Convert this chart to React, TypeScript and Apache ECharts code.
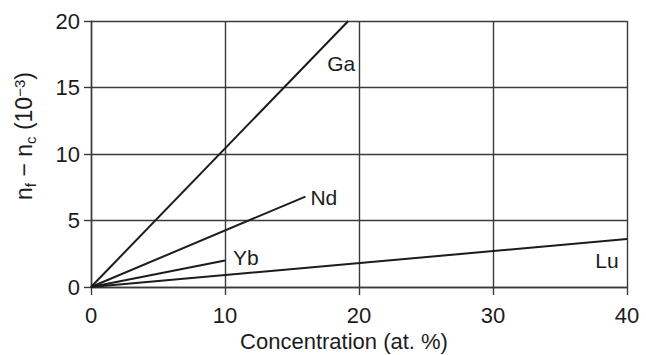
import React, { useEffect, useRef } from "react";
import * as echarts from "echarts";

// Refractive-index change vs. dopant concentration, one straight line per dopant
const gaLine: [number, number][] = [[0, 0], [19.2, 20]];
const ndLine: [number, number][] = [[0, 0], [16, 6.8]];
const ybLine: [number, number][] = [[0, 0], [10, 2]];
const luLine: [number, number][] = [[0, 0], [40, 3.6]];

const xTicks = [0, 10, 20, 30, 40];
const yTicks = [0, 5, 10, 15, 20];

const FONT = "'Liberation Sans', Arial, Helvetica, sans-serif";
const INK = "#1c1c1c";
const GRID = "#3a3a3a";

type LabelSpec = { name: string; position: string; offset: [number, number]; distance?: number };

function lineSeries(data: [number, number][], lab: LabelSpec) {
  const last = data[data.length - 1];
  return {
    type: "line",
    name: lab.name,
    symbol: "circle",
    symbolSize: 2,
    showSymbol: true,
    itemStyle: { color: "rgba(0,0,0,0)" },
    lineStyle: { color: INK, width: 2 },
    emphasis: { disabled: true },
    data: [
      ...data.slice(0, -1).map((p) => ({ value: p })),
      {
        value: last,
        label: {
          show: true,
          formatter: lab.name,
          position: lab.position,
          distance: lab.distance ?? 5,
          offset: lab.offset,
          color: INK,
          fontFamily: FONT,
          fontSize: 21,
        },
      },
    ],
  };
}

export default function App() {
  const ref = useRef<HTMLDivElement>(null);

  useEffect(() => {
    if (!ref.current) return;
    const chart = echarts.init(ref.current, undefined, { renderer: "svg" });
    chart.setOption({
      animation: false,
      backgroundColor: "#ffffff",
      grid: { left: 91, right: 19, top: 21, bottom: 68, outerBoundsMode: "none", containLabel: false },
      xAxis: {
        type: "value",
        min: xTicks[0],
        max: xTicks[xTicks.length - 1],
        interval: 10,
        name: "Concentration (at. %)",
        nameLocation: "middle",
        nameGap: 43,
        nameTextStyle: {
          color: INK,
          fontFamily: FONT,
          fontSize: 22,
          padding: [0, 30, 0, 0],
        },
        axisLine: { show: true, lineStyle: { color: GRID, width: 1.4 } },
        axisTick: { show: true, length: 8, lineStyle: { color: GRID, width: 1.4 } },
        axisLabel: { color: INK, fontFamily: FONT, fontSize: 22, margin: 17 },
        splitLine: { show: true, lineStyle: { color: GRID, width: 1.4 } },
      },
      yAxis: {
        type: "value",
        min: yTicks[0],
        max: yTicks[yTicks.length - 1],
        interval: 5,
        axisLine: { show: true, lineStyle: { color: GRID, width: 1.4 } },
        axisTick: { show: true, length: 7, lineStyle: { color: GRID, width: 1.4 } },
        axisLabel: { color: INK, fontFamily: FONT, fontSize: 22, margin: 11 },
        splitLine: { show: true, lineStyle: { color: GRID, width: 1.4 } },
      },
      graphic: [
        {
          type: "text",
          x: 24,
          y: 136,
          rotation: Math.PI / 2,
          style: {
            text: "{a|n}{b|f}{a| − n}{b|c}{a| (10}{c|−3}{a|)}",
            align: "center",
            verticalAlign: "middle",
            fill: INK,
            rich: {
              a: { fontFamily: FONT, fontSize: 23, lineHeight: 26, verticalAlign: "middle", fill: INK },
              b: { fontFamily: FONT, fontSize: 15, lineHeight: 26, verticalAlign: "middle", padding: [13, 0, 0, 0], fill: INK },
              c: { fontFamily: FONT, fontSize: 15, lineHeight: 26, verticalAlign: "middle", padding: [0, 0, 10, 0], fill: INK },
            },
          },
        },
      ],
      series: [
        lineSeries(gaLine, { name: "Ga", position: "inside", offset: [-7, 42] }),
        lineSeries(ndLine, { name: "Nd", position: "right", offset: [0, 1], distance: 4 }),
        lineSeries(ybLine, { name: "Yb", position: "right", offset: [0, -3], distance: 7 }),
        lineSeries(luLine, { name: "Lu", position: "inside", offset: [-20, 21] }),
      ],
    });
    return () => chart.dispose();
  }, []);

  return (
    <div
      ref={ref}
      style={{ position: "fixed", left: 0, top: 0, width: 646, height: 355, background: "#fff" }}
    />
  );
}
